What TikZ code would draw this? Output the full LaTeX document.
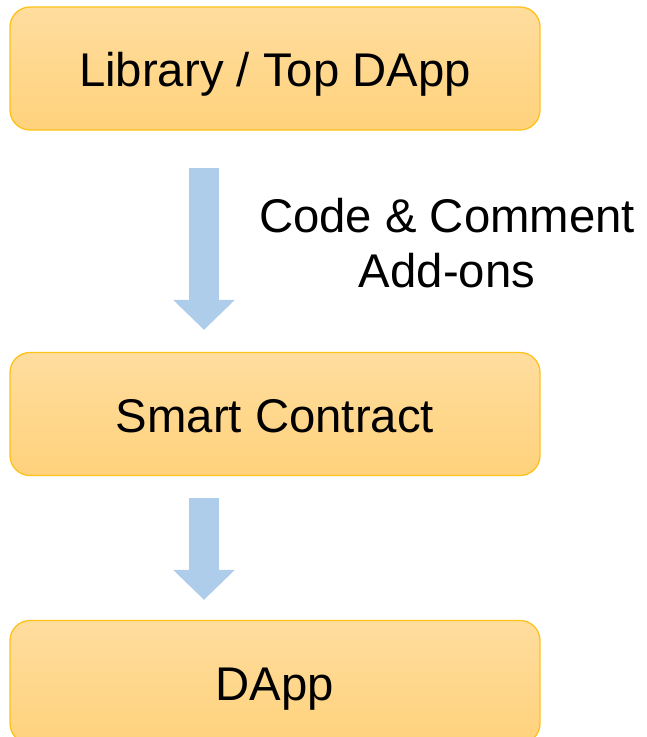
\documentclass[tikz,border=0pt]{standalone}
\usepackage{fontspec}
\setmainfont{Liberation Sans}
\usetikzlibrary{arrows.meta,calc}

\definecolor{boxtop}{HTML}{FFDD9E}
\definecolor{boxbot}{HTML}{FFD27C}
\definecolor{boxline}{HTML}{FFC21A}
\definecolor{flow}{HTML}{AECDEA}

\tikzset{
  stagebox/.style={draw=boxline, line width=1.3pt, rounded corners=20pt,
    top color=boxtop, bottom color=boxbot,
    minimum width=530pt, minimum height=123pt, inner sep=0pt,
    text height=36pt, text depth=0pt,
    font=\fontsize{47.3}{55}\selectfont},
  flowarrow/.style={draw=flow, line width=30pt, line cap=butt,
    -{Triangle[length=30pt, width=60pt, fill=flow]}},
  note/.style={align=center, font=\fontsize{47.3}{55}\selectfont}
}

\begin{document}
\begin{tikzpicture}[x=1pt, y=-1pt]
  \useasboundingbox (0,0) rectangle (646,737);

  % three stages, top to bottom
  \node[stagebox] (lib)   at (275,68.5) {Library / Top DApp};
  \node[stagebox] (sc)    at (275,414)  {Smart Contract};
  \node[stagebox] (dapp)  at (275,682)  {DApp};

  % arrow ends (y grows downward)
  \coordinate (a1s) at ($(lib.south)+(-71,37)$);
  \coordinate (a1e) at ($(sc.north)+(-71,-22)$);
  \coordinate (a2s) at ($(sc.south)+(-71,22)$);
  \coordinate (a2e) at ($(dapp.north)+(-71,-20)$);

  \draw[flowarrow] (a1s) -- (a1e);
  \draw[flowarrow] (a2s) -- (a2e);

  \node[note, anchor=base] (lbl) at (447,287) {Code \& Comment\\Add-ons};
\end{tikzpicture}
\end{document}
